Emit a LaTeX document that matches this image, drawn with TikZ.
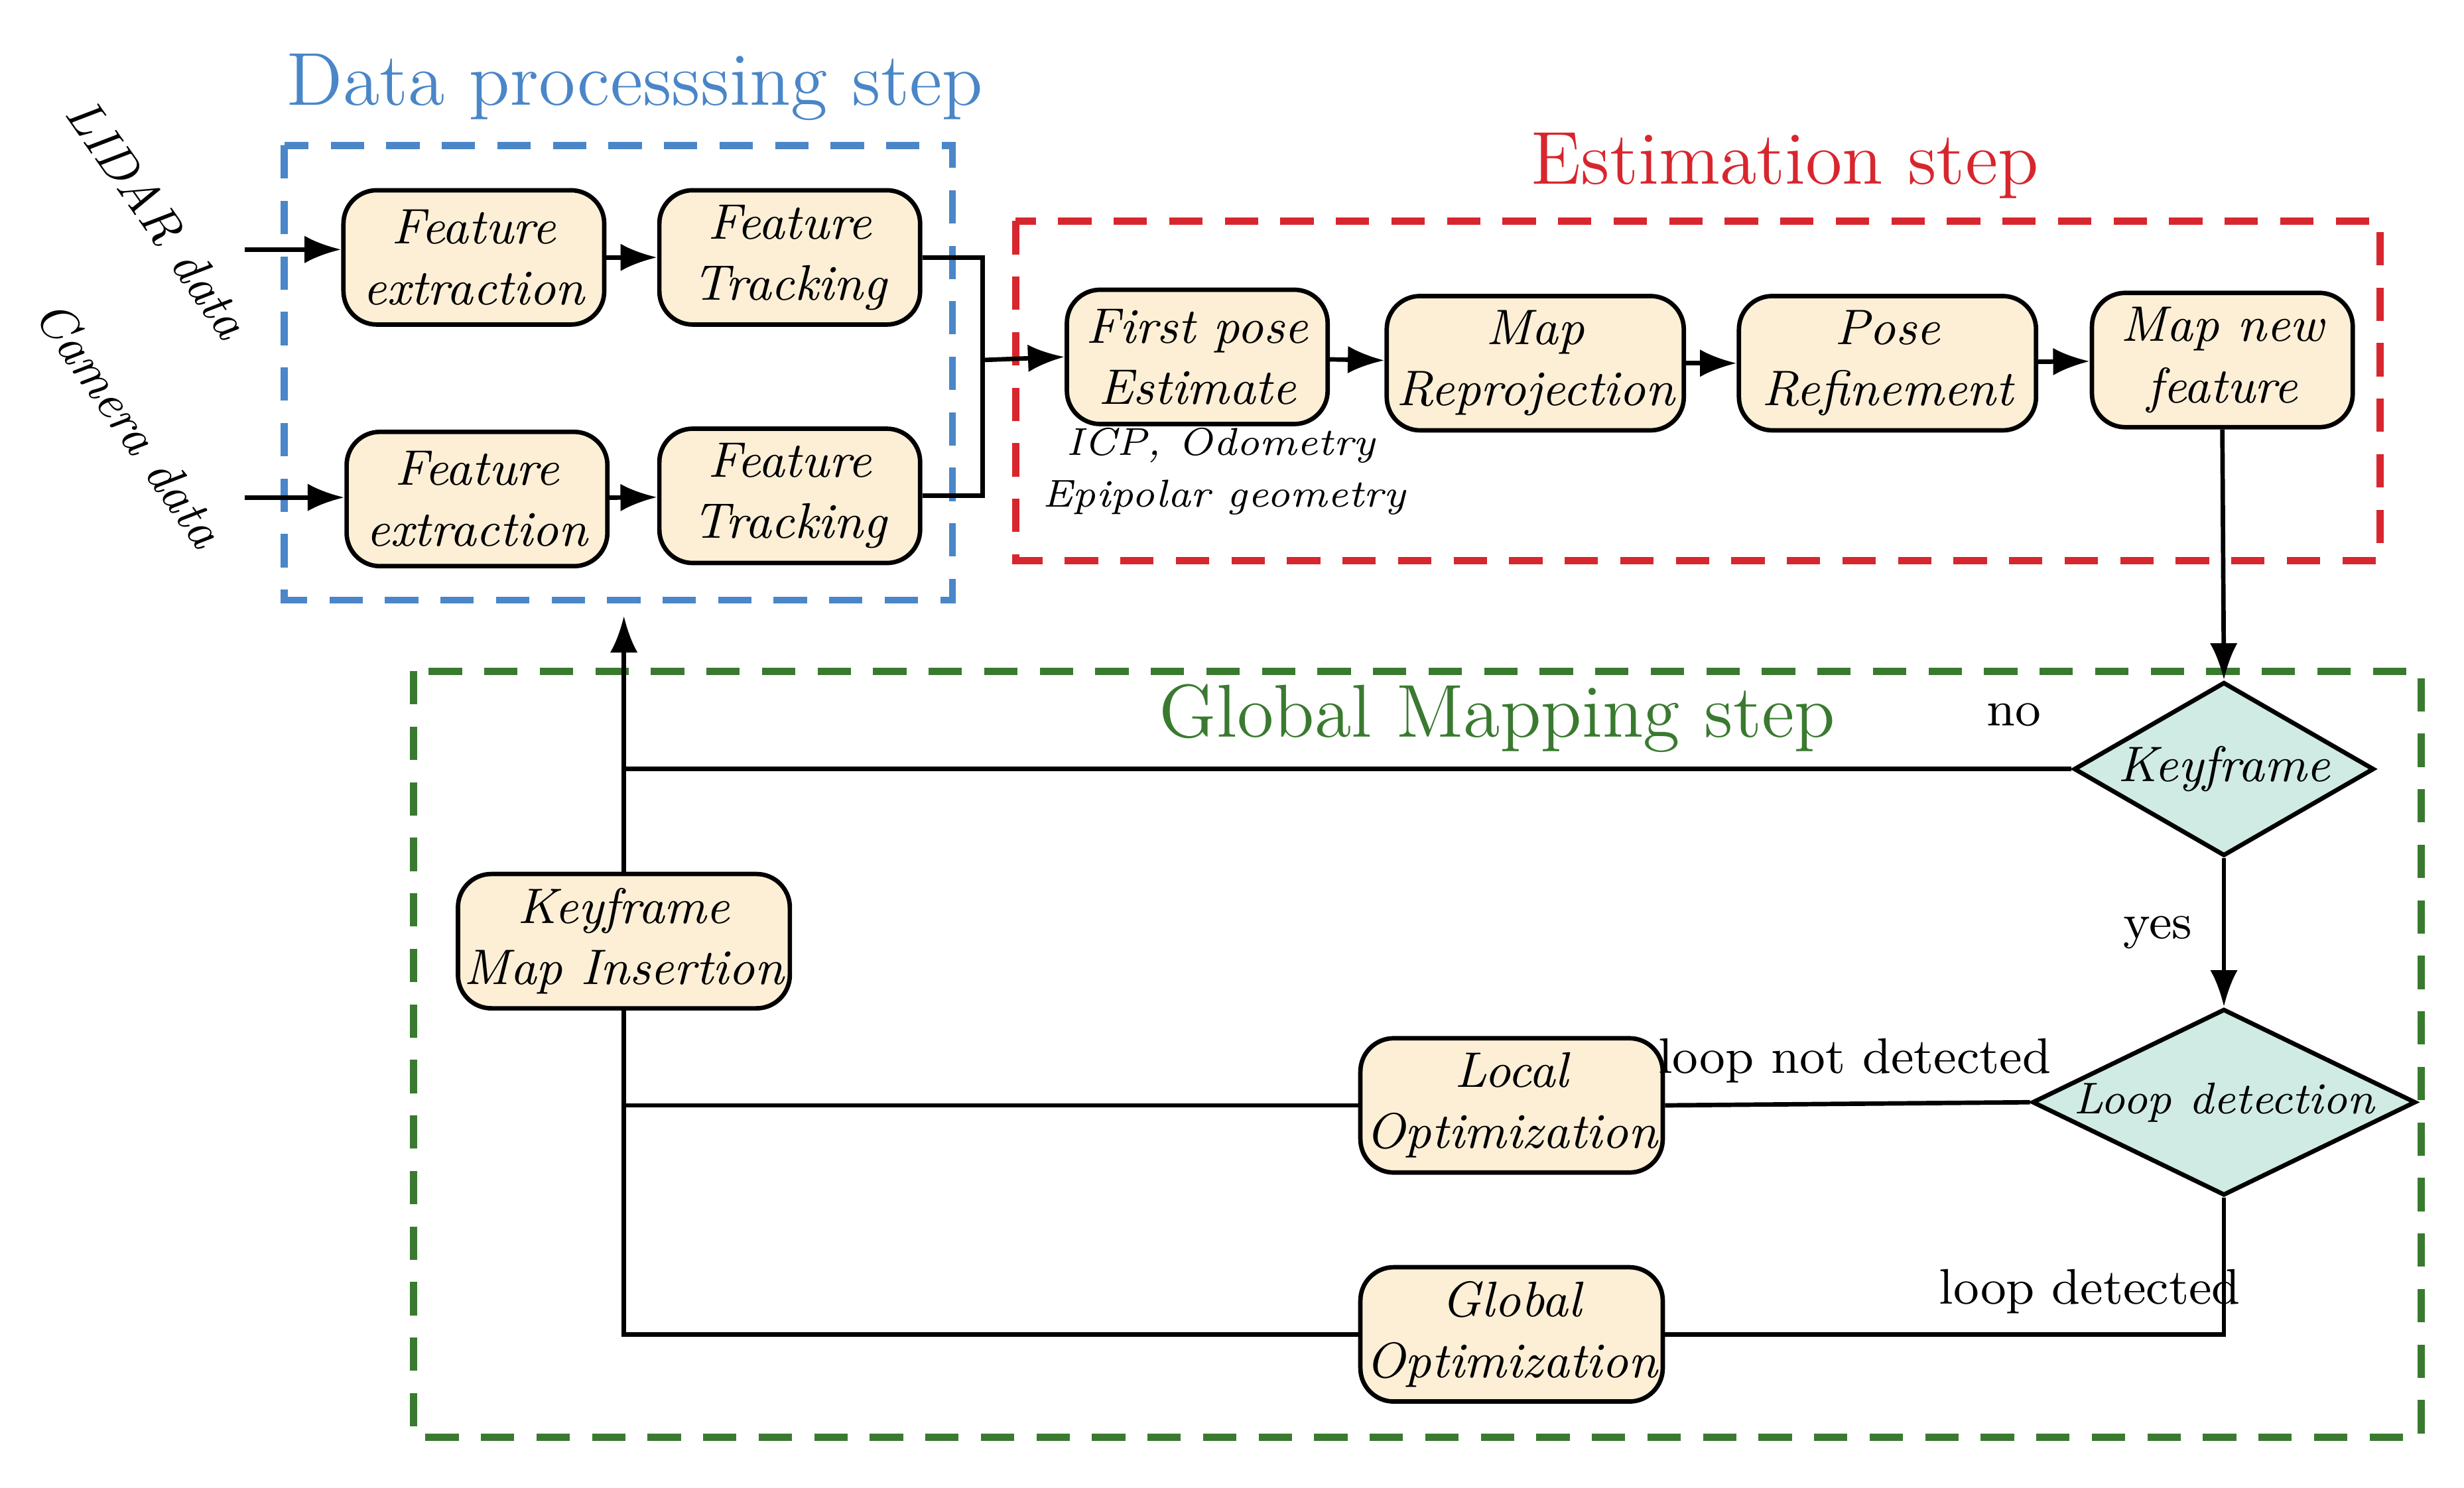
\documentclass[tikz,border=0pt]{standalone}
\usetikzlibrary{positioning,shapes.geometric,arrows.meta}
\definecolor{boxfill}{HTML}{FCEFD6}
\definecolor{dfill}{HTML}{CFEBE4}
\definecolor{dblue}{HTML}{4A86C8}
\definecolor{dred}{HTML}{D8262E}
\definecolor{dgreen}{HTML}{3A7A30}
\tikzset{
  proc/.style={draw,thick,rounded corners=6pt,fill=boxfill,align=center,
    font=\itshape\small,inner sep=1pt},
  dec/.style={draw,thick,diamond,aspect=1.8,fill=dfill,font=\itshape\small,inner sep=0pt},
  frame/.style={line width=1.3pt,dash pattern=on 6pt off 4pt},
  lbl/.style={font=\small},
  ttl/.style={font=\fontsize{13.5}{16}\selectfont},
}
\begin{document}
\begin{tikzpicture}[x=0.01cm,y=-0.01cm,>=Latex,thick]
\useasboundingbox (0,0) rectangle (1560,942);
% frames
\draw[frame,dblue] (180,92) rectangle (603,380);
\draw[frame,dred] (643,140) rectangle (1507,355);
\draw[frame,dgreen] (262,425) rectangle (1533,910);
\node[ttl,dblue] (ttlA) at (402,55) {Data processsing step};
\node[ttl,dred] (ttlB) at (1130,105) {Estimation step};
\node[ttl,dgreen] (ttlC) at (948,455) {Global Mapping step};
% data processing
\node[proc,minimum width=1.65cm,minimum height=0.85cm] (fe1) at (300,163) {Feature\\extraction};
\node[proc,minimum width=1.65cm,minimum height=0.85cm] (ft1) at (500,163) {Feature\\Tracking};
\node[proc,minimum width=1.65cm,minimum height=0.85cm] (fe2) at (302,316) {Feature\\extraction};
\node[proc,minimum width=1.65cm,minimum height=0.85cm] (ft2) at (500,314) {Feature\\Tracking};
\node[rotate=-55,font=\itshape\small] (lidar) at (100,138) {LIDAR data};
\node[rotate=-55,font=\itshape\small] (cam) at (82,268) {Camera data};
\coordinate (inA) at (155,158);
\coordinate (inB) at (155,315);
\draw[->] (inA) -- (inA -| fe1.west);
\draw[->] (inB) -- (inB -| fe2.west);
\draw[->] (fe1) -- (ft1);
\draw[->] (fe2) -- (ft2);
% estimation
\node[proc,minimum width=1.65cm,minimum height=0.85cm] (fpe) at (758,226) {First pose\\Estimate};
\node[proc,minimum width=1.88cm,minimum height=0.85cm] (mr) at (972,230) {Map\\Reprojection};
\node[proc,minimum width=1.88cm,minimum height=0.85cm] (pr) at (1195,230) {Pose\\Refinement};
\node[proc,minimum width=1.65cm,minimum height=0.85cm] (mnf) at (1407,228) {Map new\\feature};
\node[font=\itshape\scriptsize] (icp) at (773,282) {ICP, Odometry};
\node[font=\itshape\scriptsize] (epi) at (775,315) {Epipolar geometry};
\coordinate (mrg) at (622,228);
\draw (ft1.east) -- (ft1.east -| mrg) -- (ft2.east -| mrg) -- (ft2.east);
\draw[->] (mrg) -- (fpe.west);
\draw[->] (fpe) -- (mr);
\draw[->] (mr) -- (pr);
\draw[->] (pr) -- (mnf);
% global mapping
\node[dec,minimum width=1.9cm,minimum height=1.1cm] (kf) at (1408,487) {Keyframe};
\node[dec,font=\itshape\footnotesize,aspect=2.1,minimum width=2.15cm,minimum height=1.18cm] (ld) at (1408,698) {Loop detection};
\node[proc,minimum width=2.1cm,minimum height=0.85cm] (kmi) at (395,596) {Keyframe\\Map Insertion};
\node[proc,minimum width=1.88cm,minimum height=0.85cm] (lo) at (957,700) {Local\\Optimization};
\node[proc,minimum width=1.88cm,minimum height=0.85cm] (go) at (957,845) {Global\\Optimization};
\coordinate (up) at (395,390);
\draw[->] (mnf.south) -- (kf.north);
\draw[->] (kf.south) -- node[lbl,left=2pt] {yes} (ld.north);
\draw (kf.west) -- node[lbl,pos=0.04,above=4pt] {no} (kf.west -| kmi.north);
\draw[->] (kmi.north) -- (up);
\draw (ld.west) -- node[lbl,above,pos=0.48] {loop not detected} (lo.east);
\draw (lo.west) -- (lo.west -| kmi.south) -- (kmi.south);
\draw (ld.south) |- node[lbl,pos=0.62,above] {loop detected} (go.east);
\draw (go.west) -- (go.west -| kmi.south) -- (kmi.south);
\end{tikzpicture}
\end{document}
